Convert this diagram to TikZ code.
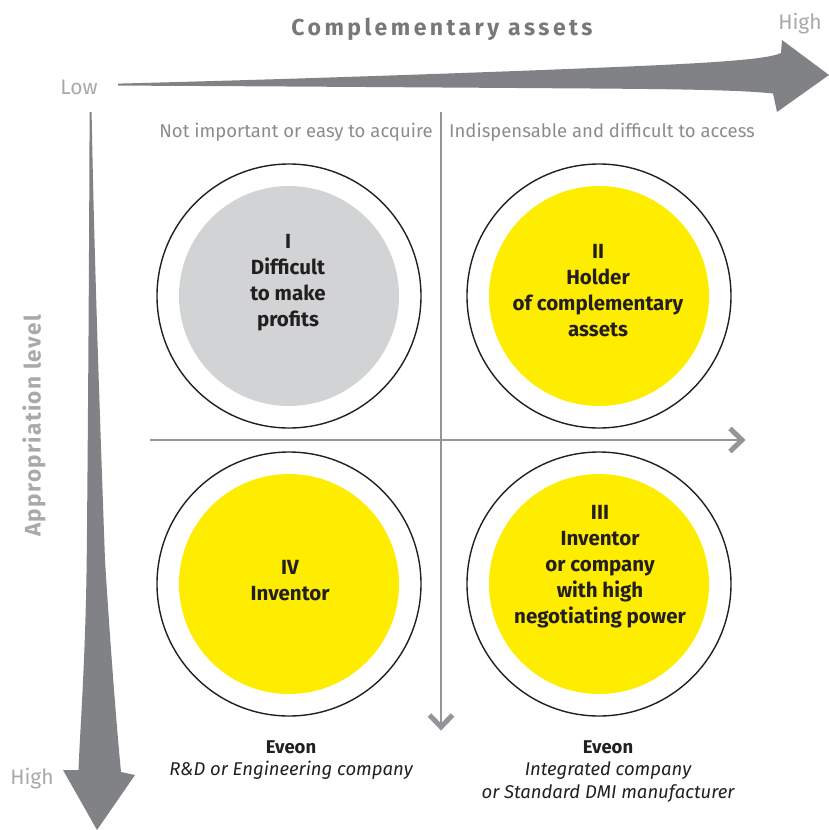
\documentclass[tikz,border=0pt]{standalone}
\usepackage{fontspec}
\setmainfont{Fira Sans}
\newfontfamily\spacedfont[LetterSpace=15]{Fira Sans}
\newfontfamily\lightspaced[LetterSpace=6]{Fira Sans}
\definecolor{arrowgray}{HTML}{808285}
\definecolor{axisgray}{HTML}{939598}
\definecolor{headgray}{HTML}{8A8C8E}
\definecolor{titlegray}{HTML}{77787B}
\definecolor{lightlabel}{HTML}{A7A9AC}
\definecolor{darktext}{HTML}{231F20}
\definecolor{quadyellow}{HTML}{FFED00}
\definecolor{quadgray}{HTML}{D1D3D4}
\tikzset{
  outerring/.style={circle, draw=darktext, line width=1.4pt, fill=white, minimum size=264pt, inner sep=0pt},
  innerdisc/.style={circle, minimum size=220pt, inner sep=0pt},
  quadtext/.style={align=center, text=darktext, font=\bfseries\fontsize{20.5}{26}\selectfont},
  headtext/.style={text=headgray, font=\fontsize{18.5}{20}\selectfont},
  endlabel/.style={text=lightlabel, font=\fontsize{21}{22}\selectfont},
  thinaxis/.style={draw=axisgray, line width=1.3pt},
  chevron/.style={draw=axisgray, line width=5pt, line cap=butt, line join=miter},
  bigarrow/.style={fill=arrowgray, draw=none},
  captitle/.style={align=center, text=darktext, font=\bfseries\fontsize{18.5}{23}\selectfont},
  capsub/.style={align=center, text=darktext, font=\itshape\fontsize{18.5}{23}\selectfont}
}
\begin{document}
\begin{tikzpicture}[x=1pt,y=-1pt]
\useasboundingbox (0,0) rectangle (829,830);

% big horizontal arrow
\path[bigarrow] (118,83.6) .. controls (300,79) and (480,72.5) .. (560,69.3)
  .. controls (680,64.5) and (765,61) .. (781,53) -- (782,40) -- (829,75) -- (777,112)
  -- (773,93.5) .. controls (740,90) and (680,89) .. (560,88.3)
  .. controls (400,87.2) and (220,86) .. (118,85.6) -- cycle;

% big vertical arrow
\path[bigarrow] (89.6,112) .. controls (89,300) and (87.5,480) .. (86.7,560)
  .. controls (85.5,660) and (80,730) .. (78.5,770) -- (63,770) -- (97,830) -- (135,775)
  -- (121,772) .. controls (116,720) and (110,640) .. (105,560)
  .. controls (100,420) and (94,250) .. (91.6,112) -- cycle;

% labels of the big axes
\node[text=titlegray, font=\spacedfont\bfseries\fontsize{23}{26}\selectfont] (title) at (442,29) {Complementary assets};
\node[endlabel] (highx) at (800,24) {High};
\node[endlabel] (lowx) at (79,87) {Low};
\node[endlabel] (highy) at (32,779) {High};
\node[rotate=90, text=lightlabel, font=\lightspaced\bfseries\fontsize{22.5}{26}\selectfont] (approp) at (34,426) {Appropriation level};

% column headers
\node[headtext] (hleft) at (296,132) {Not important or easy to acquire};
\node[headtext] (hright) at (602,132) {Indispensable and difficult to access};

% thin axes
\coordinate (hstart) at (150,440);
\coordinate (hend) at (740,440);
\coordinate (vstart) at (441,112);
\coordinate (vend) at (441,729);
\draw[thinaxis] (hstart) -- (hend);
\draw[thinaxis] (vstart) -- (vend);
\draw[chevron] (730,428.5) -- (742,440) -- (730,451.5);
\draw[chevron] (429.5,715) -- (441,727) -- (452.5,715);

% quadrant circles
\node[outerring] (c1) at (289,296) {};
\node[innerdisc, fill=quadgray] (d1) at (c1) {};
\node[outerring] (c2) at (599,296) {};
\node[innerdisc, fill=quadyellow] (d2) at (c2) {};
\node[outerring] (c4) at (289,584) {};
\node[innerdisc, fill=quadyellow] (d4) at (c4) {};
\node[outerring] (c3) at (599,584) {};
\node[innerdisc, fill=quadyellow] (d3) at (c3) {};

\node[quadtext] (t1) at (288,283) {I\\Difficult\\to make\\profits};
\node[quadtext] (t2) at (598,291) {II\\Holder\\of complementary\\assets};
\node[quadtext] (t4) at (290,581) {IV\\Inventor};
\node[quadtext] (t3) at (600,567) {III\\Inventor\\or company\\with high\\negotiating power};

% captions
\node[captitle] (e1) at (291,747) {Eveon};
\node[capsub] (s1) at (291,770) {R\&D or Engineering company};
\node[captitle] (e2) at (608,747) {Eveon};
\node[capsub] (s2) at (608,782) {Integrated company\\or Standard DMI manufacturer};
\end{tikzpicture}
\end{document}
